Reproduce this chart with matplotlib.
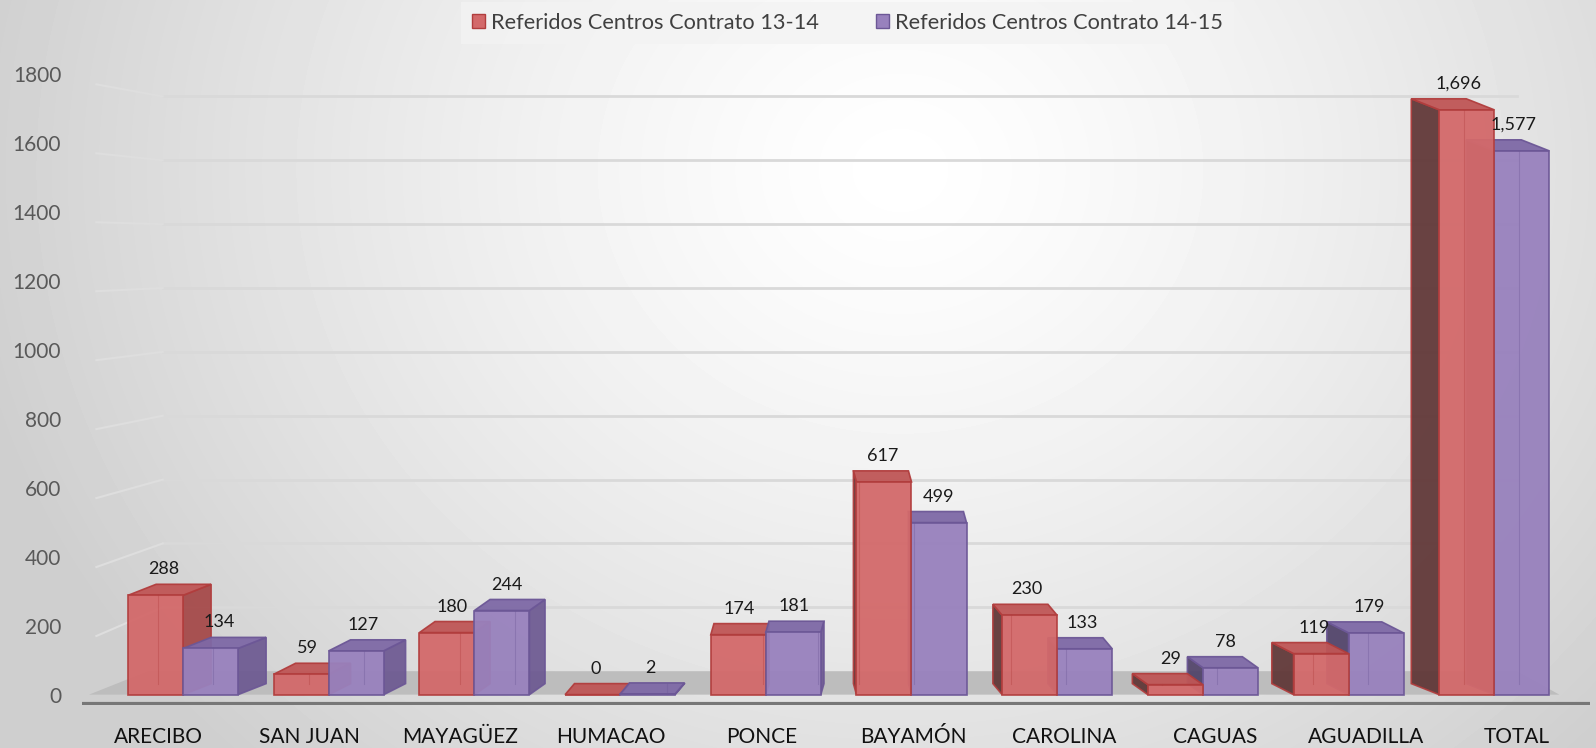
import numpy as np
import matplotlib
matplotlib.use("Agg")
import matplotlib.pyplot as plt
from matplotlib.patches import Polygon, Patch

plt.rcParams['font.family'] = ['Lato', 'DejaVu Sans']

regions = ["ARECIBO", "SAN JUAN", "MAYAGÜEZ", "HUMACAO", "PONCE",
           "BAYAMÓN", "CAROLINA", "CAGUAS", "AGUADILLA", "TOTAL"]
contrato_13_14 = [288, 59, 180, 0, 174, 617, 230, 29, 119, 1696]
contrato_14_15 = [134, 127, 244, 2, 181, 499, 133, 78, 179, 1577]
series_names = ["Referidos Centros Contrato 13-14", "Referidos Centros Contrato 14-15"]
yticks = [0, 200, 400, 600, 800, 1000, 1200, 1400, 1600, 1800]

# face colours: front, top, side, dark side (seen from the left), edge
red = dict(front="#d3696a", top="#bf5656", side="#a44646", dark="#5e3434", edge="#b13d3d")
purple = dict(front="#9881bd", top="#7e69a6", side="#6c5891", dark="#4f4168", edge="#6c5796")

fig = plt.figure(figsize=(15.96, 7.48), dpi=100)

# soft radial background
bg = fig.add_axes([0, 0, 1, 1])
yy, xx = np.mgrid[0:748, 0:1596]
d = np.hypot((xx - 900) / 1.0, (yy - 170) * 1.15)
g = 1 - 0.19 * np.clip(d / 950, 0, 1) ** 1.3
bg.imshow(g, cmap="gray", vmin=0, vmax=1, aspect="auto", interpolation="bilinear")
bg.axis("off")

ax = fig.add_axes([0.0514, 0.0575, 0.9448, 0.8436])
ax.patch.set_alpha(0)
ax.set_xlim(-0.597, 9.627)
ax.set_ylim(-30, 1800)
for s in ax.spines.values():
    s.set_visible(False)

floor_depth = 68
wall_k = 0.926   # back wall is a bit smaller (perspective)

# back wall gridlines, with the faint bend towards the side wall
for t in yticks[1:]:
    yb = floor_depth + wall_k * t
    ax.plot([-0.05, 9.13], [yb, yb], color="#d9d9d9", lw=2, zorder=0)
    ax.plot([-0.5, -0.05], [t - 30, yb], color="#dedede", lw=1.5, zorder=0)

# floor and axis line
ax.add_patch(Polygon([(-0.55, 0), (9.42, 0), (9.13, floor_depth), (-0.15, floor_depth)],
                     closed=True, fc="#bdbdbd", ec="none", zorder=1))
ax.plot([-0.6, 9.63], [-27, -27], color="#777777", lw=3, zorder=1, solid_capstyle="butt")

w = 0.373
depth_k = 0.0427
x_vanish = 4.54
dy = 32


def bar3d(xc, h, col, dx, z):
    x0, x1 = xc - w / 2, xc + w / 2
    if dx >= 0:
        side = [(x1, 0), (x1, h), (x1 + dx, h + dy), (x1 + dx, dy)]
        sc = col["side"]
    else:
        side = [(x0, 0), (x0, h), (x0 + dx, h + dy), (x0 + dx, dy)]
        sc = col["dark"]
    ax.add_patch(Polygon(side, closed=True, fc=sc, ec=col["edge"], lw=1.2, alpha=0.92, zorder=z))
    top = [(x0, h), (x1, h), (x1 + dx, h + dy), (x0 + dx, h + dy)]
    ax.add_patch(Polygon(top, closed=True, fc=col["top"], ec=col["edge"], lw=1.2, alpha=0.95, zorder=z + 0.1))
    ax.bar(xc, h, width=w, color=col["front"], edgecolor=col["edge"], lw=1.2, alpha=0.95, zorder=z + 0.2)
    # inner edge of the glassy box
    if h > 0:
        xi = x1 - abs(dx) * 0.9 if dx >= 0 else x0 + abs(dx) * 0.9
        ax.plot([xi, xi], [dy, h], color=col["edge"], lw=0.8, alpha=0.35, zorder=z + 0.3)


n = len(regions)
bar_pos = [i + 0.088 - 0.0122 * i for i in range(n)]
label_pos = [i - 0.081 + 0.0237 * i for i in range(n)]

for i, (a, b) in enumerate(zip(contrato_13_14, contrato_14_15)):
    c = bar_pos[i]
    dx = -depth_k * (c - x_vanish)
    xa, xb = c - w / 2, c + w / 2
    if dx >= 0:
        bar3d(xa, a, red, dx, 3)
        bar3d(xb, b, purple, dx, 4)
    else:
        bar3d(xb, b, purple, dx, 3)
        bar3d(xa, a, red, dx, 4)
    for xc, v in ((xa, a), (xb, b)):
        ax.annotate(f"{v:,}", xy=(xc + dx * 0.3, v + dy), xytext=(0, 5),
                    textcoords="offset points", ha="center", va="bottom",
                    fontsize=13, color="#1a1a1a", zorder=10, annotation_clip=False)

ax.set_yticks(yticks)
ax.set_yticklabels([str(t) for t in yticks])
ax.set_xticks(label_pos)
ax.set_xticklabels(regions)
ax.tick_params(axis="y", length=0, pad=15, labelsize=15, labelcolor="#595959")
ax.tick_params(axis="x", length=0, pad=16, labelsize=15, labelcolor="#111111")

handles = [Patch(fc=red["front"], ec=red["edge"]), Patch(fc=purple["front"], ec=purple["edge"])]
leg = fig.legend(handles, series_names, loc="upper center", bbox_to_anchor=(0.531, 1.012),
                 ncol=2, fontsize=15.7, frameon=True, fancybox=False, handlelength=0.6,
                 handleheight=0.6, handletextpad=0.3, columnspacing=2.6, borderpad=0.5)
leg.get_frame().set_facecolor("#f3f3f3")
leg.get_frame().set_edgecolor("none")
for t in leg.get_texts():
    t.set_color("#404040")

fig.savefig("out.png", dpi=100)
